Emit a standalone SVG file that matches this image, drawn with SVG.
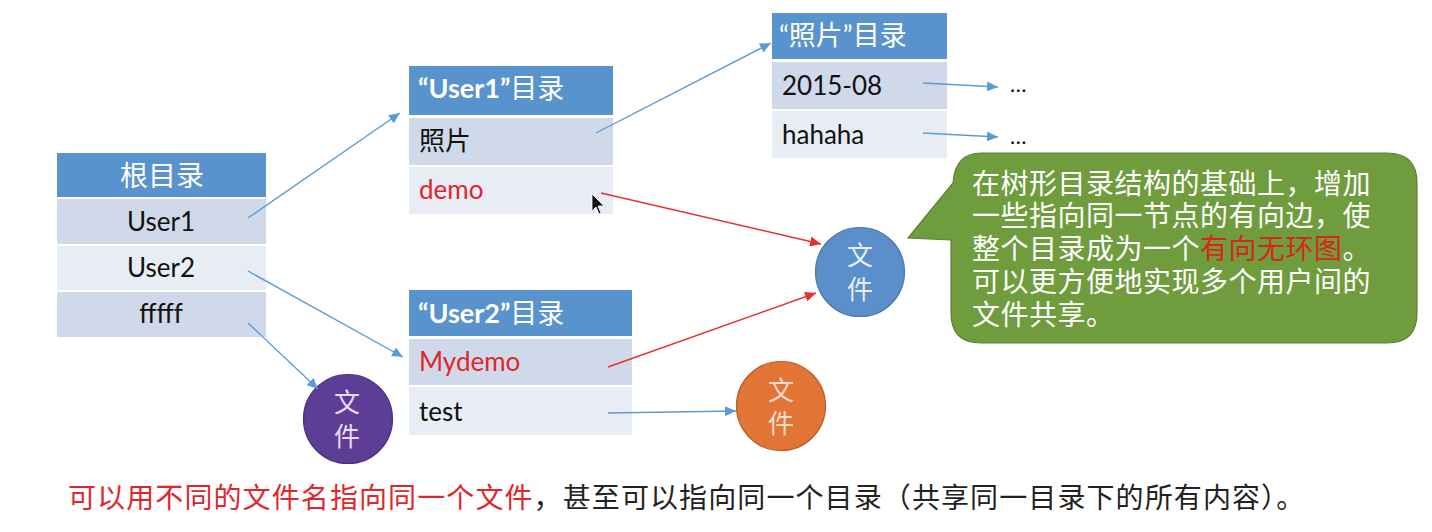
<svg xmlns="http://www.w3.org/2000/svg" width="1432" height="532" viewBox="0 0 1432 532">
<style>
.hd{fill:#5893cd}
.rd{fill:#cfd9ea}
.rl{fill:#e8edf5}
.ht{font-family:Lato,"Noto Sans CJK SC",sans-serif;font-size:27px;font-weight:bold;fill:#fff}
.cj{font-weight:normal}
.tx{font-family:Lato,"Noto Sans CJK SC",sans-serif;font-size:26px;fill:#111}
.red{fill:#e0262a}
.ct{font-family:"Liberation Sans","Noto Sans CJK SC",sans-serif;font-size:26px;text-anchor:middle}
.bl{stroke:#5b9bd5;stroke-width:1.4;fill:none;marker-end:url(#ab)}
.rl2{stroke:#e8312f;stroke-width:1.4;fill:none;marker-end:url(#ar)}
.bt{font-family:"Liberation Sans","Noto Sans CJK SC",sans-serif;font-size:28px;letter-spacing:0.5px;fill:#fff}
.ft{font-family:"Liberation Sans","Noto Sans CJK SC",sans-serif;font-size:28px;letter-spacing:1.1px;fill:#222}
</style>
<defs>
<marker id="ab" markerUnits="userSpaceOnUse" markerWidth="12" markerHeight="10" refX="11" refY="5" orient="auto"><path d="M0,0 L11,5 L0,10 z" fill="#5b9bd5"/></marker>
<marker id="ar" markerUnits="userSpaceOnUse" markerWidth="12" markerHeight="10" refX="11" refY="5" orient="auto"><path d="M0,0 L11,5 L0,10 z" fill="#e8312f"/></marker>
</defs>
<rect width="1432" height="532" fill="#fff"/>

<g id="root">
<rect class="hd" x="57" y="153" width="209" height="44"/>
<rect class="rd" x="57" y="199" width="209" height="45"/>
<rect class="rl" x="57" y="246" width="209" height="44"/>
<rect class="rd" x="57" y="292" width="209" height="45"/>
<text class="ht cj" x="162" y="186" text-anchor="middle" style="font-size:28px">根目录</text>
<text class="tx" x="161" y="231" text-anchor="middle">User1</text>
<text class="tx" x="161" y="277" text-anchor="middle">User2</text>
<text class="tx" x="161" y="323" text-anchor="middle">fffff</text>
</g>

<g id="user1dir">
<rect class="hd" x="409" y="66" width="204" height="49"/>
<rect class="rd" x="409" y="118" width="204" height="47"/>
<rect class="rl" x="409" y="167" width="204" height="47"/>
<text class="ht" x="418" y="98">“User1”<tspan class="cj">目录</tspan></text>
<text class="tx" x="419" y="150" style="font-family:'Noto Sans CJK SC',sans-serif">照片</text>
<text class="tx red" x="419" y="199">demo</text>
</g>

<g id="user2dir">
<rect class="hd" x="409" y="290" width="223" height="46"/>
<rect class="rd" x="409" y="339" width="223" height="46"/>
<rect class="rl" x="409" y="387" width="223" height="48"/>
<text class="ht" x="418" y="323">“User2”<tspan class="cj">目录</tspan></text>
<text class="tx red" x="419" y="371">Mydemo</text>
<text class="tx" x="419" y="421">test</text>
</g>

<g id="photodir">
<rect class="hd" x="772" y="13" width="175" height="46"/>
<rect class="rd" x="772" y="62" width="175" height="47"/>
<rect class="rl" x="772" y="111" width="175" height="47"/>
<text class="ht cj" x="779" y="45">“照片”目录</text>
<text class="tx" x="782" y="95">2015-08</text>
<text class="tx" x="782" y="144">hahaha</text>
</g>

<g id="more1"><text class="tx" x="1010" y="92" style="font-size:22px">…</text></g>
<g id="more2"><text class="tx" x="1010" y="144" style="font-size:22px">…</text></g>

<g id="fileBlue">
<circle cx="860" cy="272" r="44.5" fill="#5b8fcb" stroke="#4a77a8" stroke-width="1.2"/>
<text class="ct" x="860" y="265" fill="#e6eef8">文</text>
<text class="ct" x="860" y="299" fill="#e6eef8">件</text>
</g>

<g id="filePurple">
<circle cx="348" cy="419" r="44.5" fill="#5e3d96" stroke="#4b2f7c" stroke-width="1.2"/>
<text class="ct" x="347" y="412" fill="#e6ddf2">文</text>
<text class="ct" x="347" y="446" fill="#e6ddf2">件</text>
</g>

<g id="fileOrange">
<circle cx="781" cy="406" r="44.5" fill="#e27535" stroke="#b85c27" stroke-width="1.2"/>
<text class="ct" x="781" y="400" fill="#f8dcc8">文</text>
<text class="ct" x="781" y="433" fill="#f8dcc8">件</text>
</g>

<g id="callout">
<path d="M981,153 L1387,153 Q1417,153 1417,183 L1417,313 Q1417,343 1387,343 L981,343 Q951,343 951,313 L951,240 L908,238 L953,183 Q955,153 981,153 Z" fill="#6f9c3d" stroke="#5b8231" stroke-width="1.2"/>
<text class="bt" x="972" y="194">在树形目录结构的基础上，增加</text>
<text class="bt" x="972" y="226">一些指向同一节点的有向边，使</text>
<text class="bt" x="972" y="259">整个目录成为一个<tspan fill="#d9261c">有向无环图</tspan>。</text>
<text class="bt" x="972" y="292">可以更方便地实现多个用户间的</text>
<text class="bt" x="972" y="325">文件共享。</text>
</g>

<g id="footnote">
<text class="ft" x="68" y="508"><tspan fill="#e0262a">可以用不同的文件名指向同一个文件</tspan>，甚至可以指向同一个目录（共享同一目录下的所有内容）。</text>
</g>

<g id="cursor">
<path d="M592,194 L592,211 L596,207 L599,214 L601,213 L598,206 L604,206 Z" fill="#111" stroke="#fff" stroke-width="0.8"/>
</g>

<g id="connectors">
<line class="bl" x1="248" y1="218" x2="400" y2="113"/>
<line class="bl" x1="248" y1="271" x2="403" y2="357"/>
<line class="bl" x1="248" y1="323" x2="318" y2="389"/>
<line class="bl" x1="596" y1="133" x2="771" y2="43"/>
<line class="bl" x1="608" y1="413" x2="736" y2="411"/>
<line class="bl" x1="923" y1="83" x2="998" y2="87"/>
<line class="bl" x1="923" y1="133" x2="998" y2="137"/>
<line class="rl2" x1="601" y1="193" x2="821" y2="244"/>
<line class="rl2" x1="608" y1="367" x2="816" y2="293"/>
</g>
</svg>
